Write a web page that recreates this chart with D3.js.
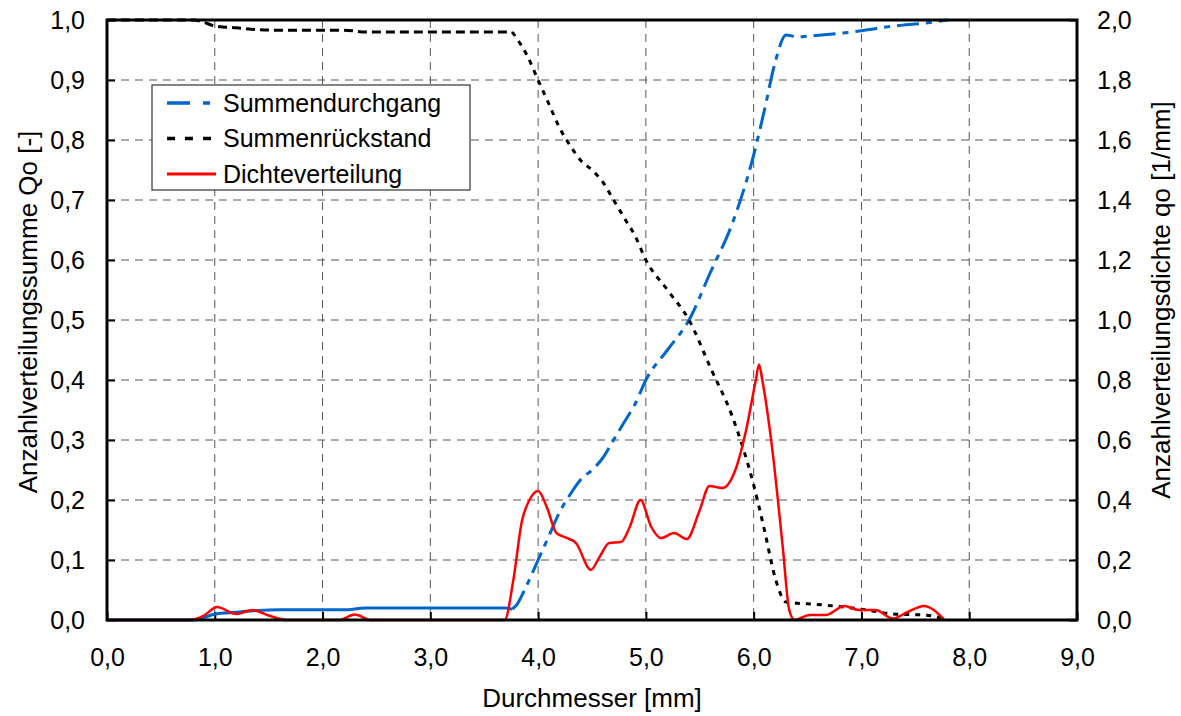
<!DOCTYPE html>
<html>
<head>
<meta charset="utf-8">
<script src="https://cdn.jsdelivr.net/npm/d3@7"></script>
<style>
  body { margin: 0; background: #fff; }
  text { font-family: "Liberation Sans", Arial, sans-serif; fill: #000; }
</style>
</head>
<body>
<div id="container"></div>
<script>
// Summendurchgang Q0 (left axis)
const durchgangX = [0, 0.8, 0.9, 1.0, 1.2, 1.4, 1.6, 2.2, 2.4, 3.7, 3.76, 3.8, 3.9, 4.0, 4.1, 4.2, 4.3, 4.4, 4.5, 4.6, 4.7, 4.8, 4.9, 5.0, 5.2, 5.4, 5.6, 5.8, 6.0, 6.1, 6.2, 6.3, 6.4, 6.5, 7.0, 7.3, 7.6, 7.8]
const durchgangY = [0, 0, 0.004, 0.01, 0.013, 0.016, 0.017, 0.017, 0.02, 0.02, 0.018, 0.025, 0.06, 0.10, 0.14, 0.18, 0.21, 0.235, 0.25, 0.27, 0.30, 0.33, 0.36, 0.40, 0.45, 0.50, 0.58, 0.66, 0.775, 0.85, 0.93, 0.975, 0.972, 0.973, 0.982, 0.99, 0.995, 1.0]

// Summenrückstand (left axis)
const rueckstandX = [0, 0.8, 0.9, 1.0, 1.2, 1.4, 1.6, 2.2, 2.4, 3.76, 3.9, 4.0, 4.1, 4.2, 4.3, 4.4, 4.5, 4.6, 4.7, 4.8, 4.9, 5.0, 5.2, 5.4, 5.6, 5.8, 6.0, 6.1, 6.2, 6.3, 6.4, 6.5, 7.0, 7.3, 7.6, 7.8]
const rueckstandY = [1.0, 1.0, 0.996, 0.99, 0.987, 0.984, 0.983, 0.983, 0.98, 0.98, 0.94, 0.90, 0.86, 0.82, 0.79, 0.765, 0.75, 0.73, 0.70, 0.67, 0.64, 0.60, 0.55, 0.50, 0.42, 0.34, 0.225, 0.15, 0.07, 0.03, 0.028, 0.027, 0.018, 0.01, 0.008, 0.0]

// Dichteverteilung q0 (right axis)
const dichteX = [0, 0.75, 0.9, 1.02, 1.2, 1.35, 1.5, 1.67, 2.15, 2.3, 2.45, 3.69, 3.77, 3.85, 3.92, 4.0, 4.08, 4.17, 4.27, 4.35, 4.49, 4.57, 4.66, 4.77, 4.85, 4.95, 5.05, 5.14, 5.26, 5.38, 5.5, 5.59, 5.71, 5.84, 5.93, 6.02, 6.05, 6.08, 6.17, 6.27, 6.33, 6.38, 6.52, 6.67, 6.84, 6.98, 7.13, 7.29, 7.43, 7.58, 7.77]
const dichteY = [0, 0, 0.015, 0.043, 0.02, 0.033, 0.015, 0, 0, 0.018, 0, 0, 0.133, 0.33, 0.40, 0.43, 0.377, 0.29, 0.273, 0.257, 0.167, 0.21, 0.257, 0.26, 0.31, 0.40, 0.31, 0.273, 0.29, 0.27, 0.367, 0.447, 0.44, 0.51, 0.633, 0.80, 0.852, 0.80, 0.577, 0.243, 0.033, 0, 0.017, 0.017, 0.047, 0.033, 0.033, 0.005, 0.027, 0.047, 0]

const xTicks = [0, 1, 2, 3, 4, 5, 6, 7, 8, 9]
const yLeftTicks = [0, 0.1, 0.2, 0.3, 0.4, 0.5, 0.6, 0.7, 0.8, 0.9, 1.0]
const yRightTicks = [0, 0.2, 0.4, 0.6, 0.8, 1.0, 1.2, 1.4, 1.6, 1.8, 2.0]

const seriesNames = ['Summendurchgang', 'Summenrückstand', 'Dichteverteilung']

const W = 1181, H = 716
const margin = { top: 20, right: 104, bottom: 96, left: 107 }
const width = W - margin.left - margin.right
const height = H - margin.top - margin.bottom
const fontSize = 25

const fmt = v => d3.format('.1f')(v).replace('.', ',')

const svg = d3.select('#container').append('svg')
  .attr('width', W).attr('height', H)

const g = svg.append('g').attr('transform', `translate(${margin.left},${margin.top})`)

const x = d3.scaleLinear().domain([0, 9]).range([0, width])
const yL = d3.scaleLinear().domain([0, 1]).range([height, 0])
const yR = d3.scaleLinear().domain([0, 2]).range([height, 0])

// grid
g.append('g').selectAll('line').data(xTicks.slice(1, -1)).enter().append('line')
  .attr('x1', d => x(d)).attr('x2', d => x(d)).attr('y1', 0).attr('y2', height)
  .attr('stroke', '#555').attr('stroke-width', 1).attr('stroke-dasharray', '8,6')
g.append('g').selectAll('line').data(yLeftTicks.slice(1, -1)).enter().append('line')
  .attr('x1', 0).attr('x2', width).attr('y1', d => yL(d)).attr('y2', d => yL(d))
  .attr('stroke', '#555').attr('stroke-width', 1).attr('stroke-dasharray', '8,6')

// axes
const axB = g.append('g').attr('transform', `translate(0,${height})`)
  .call(d3.axisBottom(x).tickValues(xTicks).tickFormat(fmt).tickSizeInner(-8).tickSizeOuter(0).tickPadding(28))
const axL = g.append('g')
  .call(d3.axisLeft(yL).tickValues(yLeftTicks).tickFormat(fmt).tickSizeInner(-8).tickSizeOuter(0).tickPadding(22))
const axR = g.append('g').attr('transform', `translate(${width},0)`)
  .call(d3.axisRight(yR).tickValues(yRightTicks).tickFormat(fmt).tickSizeInner(-8).tickSizeOuter(0).tickPadding(20))
;[axB, axL, axR].forEach(a => {
  a.select('.domain').remove()
  a.selectAll('.tick line').attr('stroke', '#000').attr('stroke-width', 2)
  a.selectAll('.tick text').attr('font-size', fontSize).attr('font-family', '"Liberation Sans", Arial, sans-serif')
})

// lines
const lineL = d3.line().x(d => x(d[0])).y(d => yL(d[1])).curve(d3.curveMonotoneX)
const lineR = d3.line().x(d => x(d[0])).y(d => yR(d[1])).curve(d3.curveMonotoneX)

const durch = d3.zip(durchgangX, durchgangY)
// flat foot of the curve looks solid in the original, the rest dash-dot
g.append('path').datum(durch.filter(d => d[0] <= 3.76))
  .attr('d', lineL).attr('fill', 'none')
  .attr('stroke', '#0066cc').attr('stroke-width', 3)
g.append('path').datum(durch.filter(d => d[0] >= 3.76))
  .attr('d', lineL).attr('fill', 'none')
  .attr('stroke', '#0066cc').attr('stroke-width', 3).attr('stroke-dasharray', '22,7,6,7')

const rueck = d3.zip(rueckstandX, rueckstandY)
g.append('path').datum(rueck.filter(d => d[0] <= 3.76))
  .attr('d', lineL).attr('fill', 'none')
  .attr('stroke', '#000').attr('stroke-width', 3).attr('stroke-dasharray', '9,5')
g.append('path').datum(rueck.filter(d => d[0] >= 3.76))
  .attr('d', lineL).attr('fill', 'none')
  .attr('stroke', '#000').attr('stroke-width', 3).attr('stroke-dasharray', '5,6')

g.append('path').datum(d3.zip(dichteX, dichteY))
  .attr('d', lineR).attr('fill', 'none')
  .attr('stroke', '#ff0000').attr('stroke-width', 2.5)

// frame
g.append('rect').attr('x', 0).attr('y', 0).attr('width', width).attr('height', height)
  .attr('fill', 'none').attr('stroke', '#000').attr('stroke-width', 3)

// legend
const lg = svg.append('g').attr('transform', 'translate(152,85)')
lg.append('rect').attr('width', 318).attr('height', 105)
  .attr('fill', '#fff').attr('stroke', '#333').attr('stroke-width', 1.2)
const legStyles = [
  { stroke: '#0066cc', dash: '23,13,7,30', w: 3.5 },
  { stroke: '#000', dash: '8,10', w: 3.5 },
  { stroke: '#ff0000', dash: null, w: 3 }
]
seriesNames.forEach((name, i) => {
  const yy = 18 + i * 35.5
  lg.append('line').attr('x1', 15).attr('x2', 64).attr('y1', yy).attr('y2', yy)
    .attr('stroke', legStyles[i].stroke).attr('stroke-width', legStyles[i].w)
    .attr('stroke-dasharray', legStyles[i].dash)
  lg.append('text').attr('x', 71).attr('y', yy).attr('dy', '0.35em')
    .attr('font-size', fontSize).text(name)
})

// axis titles
svg.append('text').attr('x', margin.left + width / 2).attr('y', 707)
  .attr('text-anchor', 'middle').attr('font-size', 26).text('Durchmesser [mm]')
svg.append('text').attr('transform', 'translate(37,312) rotate(-90)')
  .attr('text-anchor', 'middle').attr('font-size', 26).text('Anzahlverteilungssumme Qo [-]')
svg.append('text').attr('transform', 'translate(1170,300) rotate(-90)')
  .attr('text-anchor', 'middle').attr('font-size', 26).text('Anzahlverteilungsdichte qo [1/mm]')
</script>
</body>
</html>
